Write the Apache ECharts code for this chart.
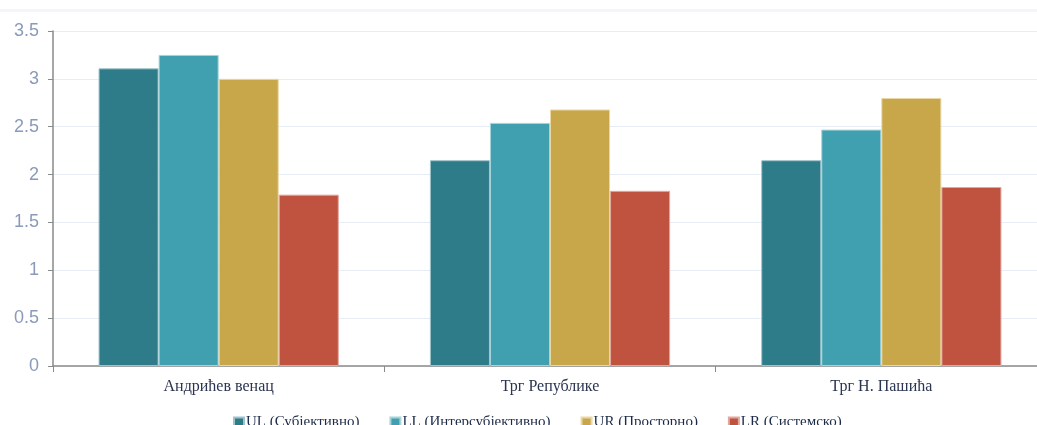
<!DOCTYPE html>
<html>
<head>
<meta charset="utf-8">
<script src="https://cdn.jsdelivr.net/npm/echarts@6/dist/echarts.min.js"></script>
<style>
  html, body { margin: 0; padding: 0; background: #fff; overflow: hidden; }
  #chart { width: 1060px; height: 425px; }
</style>
</head>
<body>
<div id="chart"></div>
<script>
var categories = ['Андрићев венац', 'Трг Републике', 'Трг Н. Пашића'];
var seriesNames = ['UL (Субјективно)', 'LL (Интерсубјективно)', 'UR (Просторно)', 'LR (Системско)'];
var ulData = [3.11, 2.15, 2.15];
var llData = [3.25, 2.54, 2.47];
var urData = [3.00, 2.68, 2.80];
var lrData = [1.79, 1.83, 1.87];
var colors = ['#2e7b8a', '#40a0b0', '#c8a74b', '#c05240'];
var borders = ['#9ec4cb', '#a9d3da', '#ead7a8', '#e1a89f'];

var chart = echarts.init(document.getElementById('chart'));
var allData = [ulData, llData, urData, lrData];
var series = seriesNames.map(function (name, i) {
    return {
        name: name,
        type: 'bar',
        data: allData[i],
        barGap: '0%',
        barCategoryGap: '27.5%',
        itemStyle: { color: colors[i], borderColor: borders[i], borderWidth: 1 }
    };
});

chart.setOption({
    animation: false,
    graphic: [
        { type: 'rect', left: 0, top: 9, shape: { width: 1060, height: 3 }, style: { fill: '#f3f5fa' }, z: -10 }
    ],
    grid: { left: 53, top: 31, width: 994, height: 335 },
    legend: {
        data: seriesNames,
        left: 228,
        top: 410,
        itemWidth: 10,
        itemHeight: 10,
        itemGap: 30,
        icon: 'rect',
        textStyle: { fontFamily: 'Liberation Serif', fontSize: 15, color: '#1c2b48', padding: [0, 0, 0, -3] }
    },
    xAxis: {
        type: 'category',
        data: categories,
        axisLine: { lineStyle: { color: '#8a8a8a', width: 1.5 } },
        axisTick: { show: true, length: 6, lineStyle: { color: '#8a8a8a' } },
        axisLabel: { fontFamily: 'Liberation Serif', fontSize: 16, color: '#2b3450', margin: 13 }
    },
    yAxis: {
        type: 'value',
        min: 0,
        max: 3.5,
        interval: 0.5,
        axisLine: { show: true, lineStyle: { color: '#8a8a8a', width: 1.5 } },
        axisTick: { show: true, length: 5, lineStyle: { color: '#8a8a8a' } },
        axisLabel: { fontFamily: 'Liberation Sans', fontSize: 18, color: '#8a9ab8', margin: 14 },
        splitLine: { lineStyle: { color: '#e6edf5' } }
    },
    series: series
});
</script>
</body>
</html>
